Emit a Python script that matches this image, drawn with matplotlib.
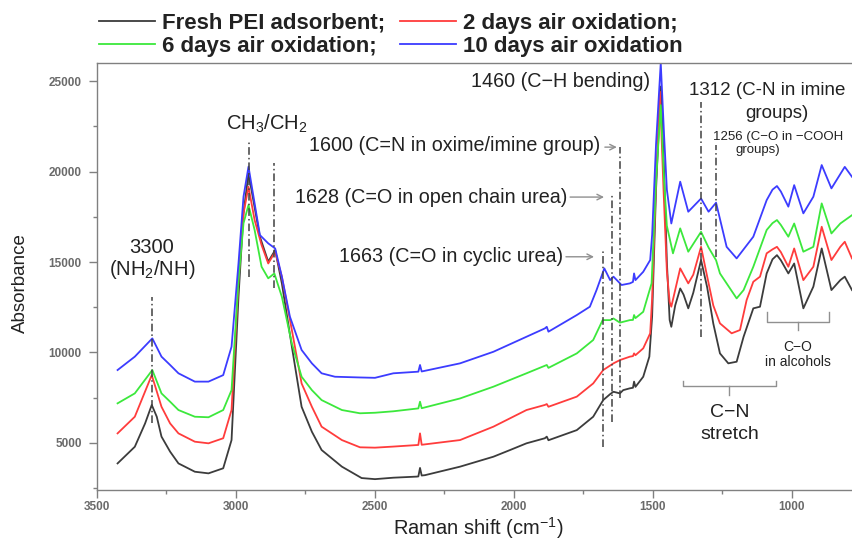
import matplotlib
matplotlib.use('Agg')
import matplotlib.pyplot as plt
from matplotlib.ticker import MultipleLocator

plt.rcParams['font.family'] = ['Liberation Sans', 'DejaVu Sans']
plt.rcParams['mathtext.fontset'] = 'custom'
plt.rcParams['mathtext.rm'] = 'Liberation Sans'
plt.rcParams['mathtext.it'] = 'Liberation Sans:italic'
plt.rcParams['mathtext.bf'] = 'Liberation Sans:bold'

# ---------------- data ----------------
series_labels = ['Fresh PEI adsorbent;', '2 days air oxidation;',
                 '6 days air oxidation;', '10 days air oxidation']
series_colors = ['#3c3c3c', '#ff3c3c', '#3ce83c', '#3c3cff']

fresh_x = [3426, 3364, 3327, 3303, 3285, 3268, 3237, 3207, 3148, 3099, 3046,
           3016, 2991, 2973, 2955, 2914, 2884, 2859, 2835, 2799, 2764, 2727,
           2692, 2619, 2548, 2500, 2434, 2350, 2344, 2338, 2332, 2320,
           2194, 2074, 2014, 1955, 1889, 1882, 1876, 1774, 1715, 1679,
           1654, 1642, 1619, 1607, 1583, 1572, 1568, 1563, 1535, 1513,
           1503, 1489, 1472, 1460, 1450, 1440, 1434, 1420, 1402, 1390, 1373,
           1355, 1327, 1305, 1283, 1259, 1229, 1199, 1174, 1139, 1115,
           1091, 1070, 1054, 1040, 1013, 992, 959, 923, 893, 858, 826, 810, 784]
fresh_y = [3870, 4790, 6080, 7100, 6450, 5350, 4520, 3870, 3410, 3320, 3600,
           5160, 13080, 17690, 19900, 16400, 15020, 15660, 13820, 10320, 7000, 5620,
           4610, 3690, 3060, 3000, 3080, 3140, 3150, 3620, 3200, 3220,
           3690, 4240, 4610, 4980, 5260, 5350, 5150, 5710, 6450, 7370,
           7700, 7830, 7740, 7920, 8020, 8050, 8390, 8100, 8660, 9770,
           12000, 19000, 24700, 20000, 15000, 11800, 11420, 12600, 13540, 13200, 12440,
           13300, 15110, 13600, 11600, 9950, 9400, 9490, 10870, 12440, 12530,
           14370, 15150, 15380, 15100, 14370, 14920, 12440, 13640, 15750, 13450, 14000, 14190, 13450]

red_x = [3426, 3364, 3303, 3268, 3237, 3207, 3148, 3099, 3046, 3016, 2991,
         2973, 2955, 2933, 2908, 2884, 2859, 2835, 2799, 2764, 2727, 2692,
         2619, 2554, 2500, 2434, 2344, 2338, 2332, 2194, 2074, 1955,
         1889, 1882, 1876, 1774, 1715, 1679, 1642, 1619, 1583, 1572,
         1568, 1563, 1535, 1510, 1503, 1489, 1475, 1462, 1450, 1440,
         1434, 1402, 1373, 1355, 1327, 1305, 1283, 1259, 1217, 1187,
         1163, 1139, 1115, 1091, 1070, 1054, 1040, 1013, 992, 959, 923, 893,
         858, 826, 810, 784]
red_y = [5530, 6450, 8750, 7000, 6080, 5530, 5070, 4980, 5260, 6820, 14000,
         17690, 19160, 17320, 15940, 14920, 15570, 14190, 11240, 8290, 7000, 5900,
         5160, 4760, 4740, 4800, 4890, 5530, 4900, 5160, 5900, 6820,
         7100, 7150, 7000, 7560, 8290, 9030, 9400, 9580, 9770, 9800,
         9950, 9850, 10230, 11060, 13000, 19500, 24410, 19000, 14500, 12800,
         12530, 14650, 13820, 14300, 15840, 14200, 12600, 11610, 11060, 11240,
         12900, 13910, 14190, 15480, 15700, 15840, 15550, 14740, 15750, 14000, 14740, 16950,
         15110, 15840, 16120, 15200]

green_x = [3426, 3364, 3301, 3268, 3237, 3207, 3148, 3099, 3046, 3016, 2991,
           2973, 2955, 2933, 2908, 2884, 2862, 2835, 2799, 2764, 2727, 2692,
           2619, 2554, 2500, 2434, 2344, 2338, 2332, 2194, 2074, 1955,
           1882, 1876, 1774, 1715, 1681, 1654, 1642, 1619, 1583, 1572,
           1568, 1563, 1535, 1505, 1489, 1472, 1460, 1450, 1428, 1402,
           1373, 1327, 1300, 1273, 1259, 1199, 1174, 1139, 1091, 1070, 1054, 1040,
           1013, 992, 959, 923, 893, 858, 826, 784]
green_y = [7190, 7740, 9030, 7740, 7280, 6820, 6450, 6420, 6820, 7920, 14000,
           17140, 18150, 16770, 14740, 14100, 14370, 13080, 10500, 8660, 7920, 7370,
           6820, 6640, 6670, 6750, 6910, 7280, 6920, 7460, 8110, 8850,
           9310, 9150, 9950, 10690, 11790, 11790, 11880, 11650, 11790, 11800,
           12070, 11900, 12250, 13820, 19500, 23670, 19500, 17000, 15480, 16860,
           15570, 16670, 15800, 15100, 14370, 12990, 13450, 14740, 16770, 17150, 17320, 17050,
           16400, 17130, 15570, 15840, 18240, 16580, 17130, 17590]

blue_x = [3426, 3364, 3301, 3268, 3237, 3207, 3148, 3099, 3046, 3016, 2991,
          2973, 2955, 2937, 2914, 2884, 2859, 2835, 2806, 2764, 2727, 2692,
          2644, 2554, 2500, 2434, 2344, 2338, 2332, 2194, 2074, 1955,
          1889, 1882, 1876, 1774, 1727, 1703, 1675, 1654, 1642, 1613,
          1583, 1572, 1568, 1563, 1535, 1510, 1503, 1489, 1472, 1460,
          1450, 1434, 1402, 1373, 1327, 1300, 1273, 1235, 1199, 1139,
          1091, 1070, 1054, 1040, 1013, 992, 959, 923, 893, 858, 810, 784]
blue_y = [9030, 9770, 10780, 9770, 9310, 8850, 8390, 8390, 8750, 10320, 14930,
          18610, 20270, 18610, 16490, 16030, 15750, 14190, 11980, 10140, 9400, 8850,
          8660, 8620, 8600, 8850, 8940, 9310, 8950, 9400, 10040, 10870,
          11330, 11420, 11150, 12070, 12530, 13450, 14650, 14000, 14190, 13730,
          13820, 13900, 14370, 14000, 14460, 15110, 16500, 21500, 26000, 22000,
          19000, 17130, 19440, 17780, 18510, 17780, 18280, 15840, 15200, 16400,
          18420, 19000, 19200, 18900, 18060, 19250, 17690, 18610, 20360, 19070, 20260, 19710]

series_x = [fresh_x, red_x, green_x, blue_x]
series_y = [fresh_y, red_y, green_y, blue_y]

x_ticks = [3500, 3000, 2500, 2000, 1500, 1000]
y_ticks = [5000, 10000, 15000, 20000, 25000]

# marker lines: (position, y from, y to)
marker_lines = [(3303, 6100, 13070), (2953, 14190, 21650), (2862, 13560, 20470),
                (1681, 4780, 15660), (1649, 6160, 18700), (1619, 7480, 21350),
                (1327, 10870, 23860), (1274, 15290, 21460)]

# ---------------- figure ----------------
fig = plt.figure(figsize=(8.52, 5.4), dpi=100)
ax = fig.add_axes([97/852, 50/540, 755/852, 427/540])

handles = []
for xs, ys, c, lab in zip(series_x, series_y, series_colors, series_labels):
    h, = ax.plot(xs, ys, color=c, lw=1.3, label=lab)
    handles.append(h)

ax.set_xlim(3500, 784)
ax.set_ylim(2400, 26000)
ax.set_xticks(x_ticks)
ax.set_yticks(y_ticks)
ax.xaxis.set_minor_locator(MultipleLocator(250))
ax.yaxis.set_minor_locator(MultipleLocator(2500))
ax.tick_params(which='major', direction='out', length=6, width=1, color='#808080',
               labelsize=8.5, labelcolor='#6a6a6a', top=False, right=False)
ax.tick_params(axis='y', which='major', pad=5)
ax.tick_params(axis='x', which='major', pad=2)
ax.tick_params(which='minor', direction='out', length=3, width=1, color='#808080',
               top=False, right=False)
for lab in ax.get_xticklabels() + ax.get_yticklabels():
    lab.set_fontweight('bold')
for s in ['left', 'bottom', 'top']:
    ax.spines[s].set_color('#808080')
    ax.spines[s].set_linewidth(1.0)
ax.spines['right'].set_visible(False)

ax.set_xlabel('Raman shift (cm$^{-1}$)', fontsize=14.5, color='#222222')
ax.xaxis.set_label_coords((478 - 97) / 755, (490 - 528) / 427)
ax.xaxis.label.set_va('center')
ax.set_ylabel('Absorbance', fontsize=13.5, color='#222222')
ax.yaxis.set_label_coords((20 - 97) / 755, (490 - 283) / 427)
ax.yaxis.label.set_va('center')

for xp, y0, y1 in marker_lines:
    ax.vlines(xp, y0, y1, colors='#404040', linestyles=(0, (5, 2, 1, 2)), lw=1.1, zorder=5)

tc = '#222222'
fs = 14.2
ax.text(3303, 15830, '3300', ha='center', va='center', fontsize=14.5, color=tc)
ax.text(3303, 14560, '(NH$_2$/NH)', ha='center', va='center', fontsize=14.5, color=tc)
ax.text(2888, 22290, 'CH$_3$/CH$_2$', ha='center', va='baseline', fontsize=14.5, color=tc)
ax.text(1691, 21460, '1600 (C=N in oxime/imine group)', ha='right', va='center', fontsize=fs, color=tc)
ax.text(1809, 18590, '1628 (C=O in open chain urea)', ha='right', va='center', fontsize=fs, color=tc)
ax.text(1823, 15290, '1663 (C=O in cyclic urea)', ha='right', va='center', fontsize=fs, color=tc)
ax.text(1511, 24960, '1460 (C\u2212H bending)', ha='right', va='center', fontsize=fs, color=tc)
ax.text(1090, 24500, '1312 (C-N in imine', ha='center', va='center', fontsize=13.5, color=tc)
ax.text(1055, 23230, 'groups)', ha='center', va='center', fontsize=13.5, color=tc)
ax.text(1285, 21920, '1256 (C\u2212O in \u2212COOH', ha='left', va='center', fontsize=9.5, color=tc)
ax.text(1122, 21190, 'groups)', ha='center', va='center', fontsize=9.5, color=tc)

arrow_kw = dict(arrowstyle='->', color='#909090', lw=1.0, shrinkA=0, shrinkB=0)
ax.annotate('', xy=(1630, 21350), xytext=(1673, 21350), arrowprops=arrow_kw)
ax.annotate('', xy=(1676, 18590), xytext=(1798, 18590), arrowprops=arrow_kw)
ax.annotate('', xy=(1712, 15290), xytext=(1813, 15290), arrowprops=arrow_kw)

# brackets
bc = '#909090'
ax.plot([1392, 1392, 1057, 1057], [8420, 8150, 8150, 8420], color=bc, lw=1.0)
ax.plot([1225, 1225], [8150, 7650], color=bc, lw=1.0)
ax.text(1225, 6680, 'C\u2212N', ha='center', va='center', fontsize=14, color=tc)
ax.text(1225, 5440, 'stretch', ha='center', va='center', fontsize=14, color=tc)
ax.plot([1091, 1091, 866, 866], [12250, 11700, 11700, 12250], color=bc, lw=1.0)
ax.plot([978, 978], [11700, 11240], color=bc, lw=1.0)
ax.text(978, 10320, 'C\u2212O', ha='center', va='center', fontsize=10, color=tc)
ax.text(978, 9490, 'in alcohols', ha='center', va='center', fontsize=10, color=tc)

# legend: row 1 = fresh, 2 days; row 2 = 6 days, 10 days (column-wise fill)
order = [0, 2, 1, 3]
leg = fig.legend([handles[i] for i in order], [series_labels[i] for i in order],
                 loc='upper left', bbox_to_anchor=(99/852, 1 - 13/540), ncol=2,
                 frameon=False, borderpad=0, borderaxespad=0, handlelength=2.5,
                 handletextpad=0.35, columnspacing=0.65, labelspacing=0.1,
                 prop={'weight': 'bold', 'size': 16})
for t in leg.get_texts():
    t.set_color('#222222')

fig.savefig('out.png', dpi=100)
